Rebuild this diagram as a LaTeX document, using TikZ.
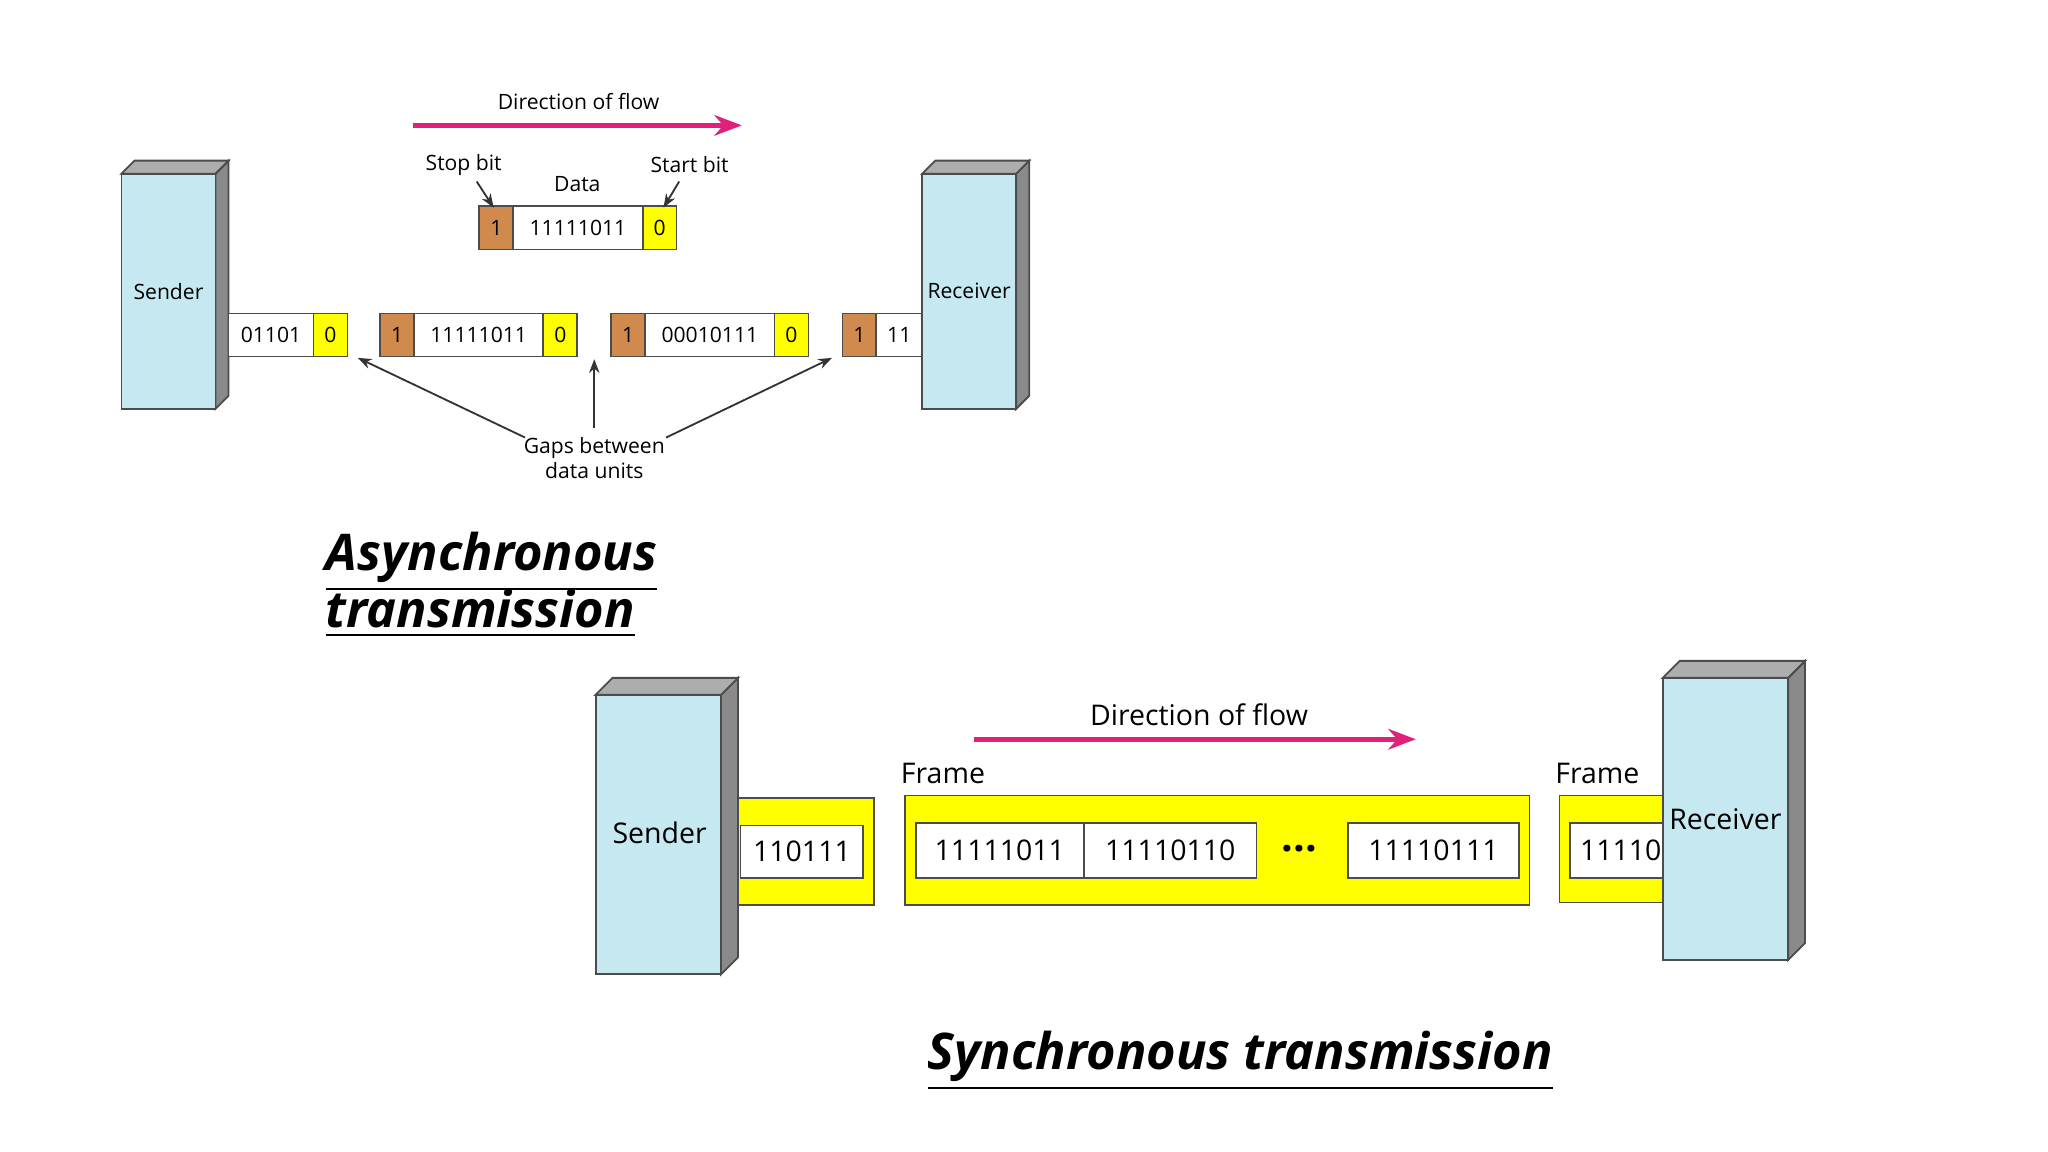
\documentclass[tikz,border=0pt]{standalone}
\usepackage{fontspec}
\setmainfont{Open Sans}
\usetikzlibrary{arrows.meta}
\definecolor{box}{HTML}{C6E8F0}
\definecolor{side}{HTML}{8A8A8A}
\definecolor{org}{HTML}{D08A4E}
\definecolor{yel}{HTML}{FFFF00}
\definecolor{mag}{HTML}{E0207A}
\begin{document}
\begin{tikzpicture}[x=0.01cm,y=-0.01cm,
  cell/.style={draw=black!70,line width=0.4pt,inner sep=0,anchor=center},
  sa/.style={font=\fontsize{4.6}{5.5}\selectfont},
  sb/.style={font=\fontsize{6.2}{7}\selectfont},
  flow/.style={mag,line width=1pt,-{Stealth[length=6pt]}},
  thin/.style={black!80,line width=0.4pt,-{Stealth[length=3pt]}},
  title/.style={font=\fontsize{11}{13.5}\selectfont\bfseries\itshape,anchor=north west,align=left}]
\useasboundingbox (0,0) rectangle (1568,882);
\newcommand\dev[6]{% x1 y1 x2 y2 depth name
 \fill[side,draw=black!70] (#3,#2)--(#3+#5,#2-#5)--(#3+#5,#4-#5)--(#3,#4)--cycle;
 \fill[side!70,draw=black!70] (#1,#2)--(#1+#5,#2-#5)--(#3+#5,#2-#5)--(#3,#2)--cycle;
 \draw[fill=box,draw=black!70] (#1,#2) rectangle (#3,#4);
 \coordinate (#6) at ({(#1+#3)/2},{(#2+#4)/2});}
\newcommand\cl[6]{% x1 y1 x2 y2 fill text
 \filldraw[fill=#5,draw=black!70,line width=0.4pt] (#1,#2) rectangle (#3,#4);
 \node[inner sep=0] at ({(#1+#3)/2},{(#2+#4)/2}) {#6};}
% ---- async
\dev{93}{133}{165}{313}{10}{sd}
\node[sa] (sdt) at (sd) {Sender};
\begin{scope}[sa]
\cl{175}{240}{240}{273}{white}{01101}\cl{240}{240}{266}{273}{yel}{0}
\cl{291}{240}{317}{273}{org}{1}\cl{317}{240}{416}{273}{white}{11111011}\cl{416}{240}{442}{273}{yel}{0}
\cl{468}{240}{494}{273}{org}{1}\cl{494}{240}{593}{273}{white}{00010111}\cl{593}{240}{619}{273}{yel}{0}
\cl{645}{240}{671}{273}{org}{1}\cl{671}{240}{706}{273}{white}{11}
\cl{367}{158}{393}{191}{org}{1}\cl{393}{158}{492}{191}{white}{11111011}\cl{492}{158}{518}{191}{yel}{0}
\end{scope}
\dev{706}{133}{778}{313}{10}{rc}
\node[sa] (rct) at (rc) {Receiver};
\node[sa] (df1) at (443,78) {Direction of flow};
\coordinate (f1a) at (316,96); \coordinate (f1b) at (568,96);
\draw[flow] (f1a)--(f1b);
\node[sa] (stop) at (355,126) {Stop bit};
\node[sa] (data) at (442,141) {Data};
\node[sa] (start) at (528,126) {Start bit};
\coordinate (s1) at (378,159); \coordinate (s2) at (508,159);
\draw[thin] (365,139)--(s1); \draw[thin] (520,139)--(s2);
\node[sa,align=center] (gap) at (455,351) {Gaps between\\data units};
\coordinate (g1) at (274,274); \coordinate (g2) at (455,275); \coordinate (g3) at (637,274);
\draw[thin] (402,335)--(g1); \draw[thin] (455,328)--(g2); \draw[thin] (510,335)--(g3);
\node[title] (t1) at (237,395) {\underline{Asynchronous}\\[-1pt]\underline{transmission}};
% ---- sync
\begin{scope}[sb]
\cl{1194}{609}{1280}{691}{yel}{}
\cl{1202}{630}{1280}{672}{white}{}
\node[anchor=west,inner sep=0] at (1209,651) {11110};
\end{scope}
\dev{1273}{519}{1369}{735}{13}{rc2}
\node[sb] (rct2) at (1321,627) {Receiver};
\dev{456}{532}{552}{746}{13}{sd2}
\node[sb] (sdt2) at (505,638) {Sender};
\begin{scope}[sb]
\cl{565}{611}{669}{693}{yel}{}
\cl{567}{632}{661}{672}{white}{110111}
\cl{693}{609}{1171}{693}{yel}{}
\cl{701}{630}{830}{672}{white}{11111011}
\cl{830}{630}{962}{672}{white}{11110110}
\cl{1032}{630}{1163}{672}{white}{11110111}
\node[font=\fontsize{9}{9}\selectfont\bfseries] (dots) at (995,650) {...};
\node (fr1) at (722,592) {Frame};
\node (fr2) at (1223,592) {Frame};
\node (df2) at (918,547) {Direction of flow};
\end{scope}
\coordinate (f2a) at (746,566); \coordinate (f2b) at (1084,566);
\draw[flow] (f2a)--(f2b);
\node[title] (t2) at (698,777) {\underline{Synchronous transmission}};
\end{tikzpicture}
\end{document}
